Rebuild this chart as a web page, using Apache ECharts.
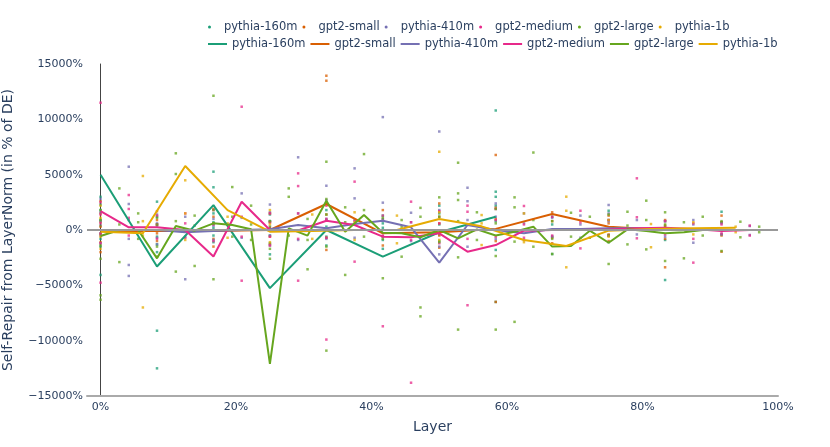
<!DOCTYPE html>
<html>
<head>
<meta charset="utf-8">
<script src="https://cdn.jsdelivr.net/npm/echarts@6/dist/echarts.min.js"></script>
<style>html,body{margin:0;padding:0;background:#fff;}#c{width:830px;height:447px;}</style>
</head>
<body>
<div id="c"></div>
<script>
// ---- data ----
const models = ['pythia-160m', 'gpt2-small', 'pythia-410m', 'gpt2-medium', 'gpt2-large', 'pythia-1b'];
const nLayers = [12, 12, 24, 24, 36, 16];
const colors = ['#1b9e77', '#d95f02', '#7570b3', '#e7298a', '#66a61e', '#e6ab02'];
const xTickValues = [0, 20, 40, 60, 80, 100];

// mean self-repair per layer (line)
const pythia160mLine = [5000, -3300, 2250, -5250, 0, -2400, -200, 1200];
const gpt2SmallLine = [-100, -100, -100, 0, 2350, -300, -200, 100, 1450, 300, 0, 0];
const pythia410mLine = [0, 0, 0, -200, -100, 0, 60, 450, 150, 540, 840, 240, -2950, 450, 0, -300, 100, 100, 150, 150, 100, 50, 0, 0];
const gpt2MediumLine = [1710, 240, 240, 0, -2400, 2560, 0, -50, 840, 450, -600, -660, -300, -1960, -1360, -60, 0, 0, 50, 150, 200, 100, -100, 0];
const gpt2LargeLine = [-540, 0, 0, -2560, 360, -60, 600, 450, 60, -12100, 150, -510, 2650, -150, 1350, -240, -300, -660, 0, -750, 60, -500, -150, 300, -1500, -1450, -60, -1150, 60, -100, -300, -200, 0, 0, 0, 0];
const pythia1bLine = [-150, -300, 5780, 1800, -150, -100, 0, 0, 1000, 330, -900, -1450, -60, 100, 150, 200];

// per-head values, grouped by layer (dots)
const pythia160mDots = [
  [-4060, 3000, 1800, 900, 400, -300, -800, -1500, 2300],
  [-12500, -9100, 2560, 1200, -600, -1300, -2000, 400],
  [5270, 3860, 1500, 700, -500, -1100, 200],
  [1400, 800, -500, -1200, -2200, 300],
  [1800, 900, -600, -1400, 300],
  [1300, 600, -900, -1700, 200],
  [1500, 2200, -400, -1000, 500],
  [10800, 3460, 3000, 2200, -6500, -1800, 800],
  [-2170, 1200, 500, -600],
  [1740, 900, -500, -1100],
  [-4520, 800, -900, 300],
  [1650, 700, -400]
];
const gpt2SmallDots = [
  [2600, 1500, 700, -400, -1100, -2000, 300],
  [1700, 900, -300, -1000, 500],
  [1900, 600, -800, -1500, 1200],
  [1500, 700, -600, -1300, 200],
  [13940, 13490, 2500, 1400, -700, -1800],
  [1800, 900, -600, -1400],
  [2400, 1200, -500, -1600, 600],
  [6780, -6500, 2000, 1000, -1000],
  [1600, 800, -700, -1200],
  [1300, 600, -400, -1000],
  [-3370, 900, -800, 400],
  [-1960, 1300, 700, -500]
];
const pythia410mDots = [
  [2800, 1600, 800, -500, -1200],
  [5720, 2350, -3160, -4150, 900, -800],
  [1400, 600, -700, -1300],
  [-4450, 1200, -600],
  [1000, 400, -900],
  [3310, 1100, -700],
  [1600, 800, -500, -1400, 2300],
  [6570, 1500, -900],
  [4000, 2700, 1000, -800],
  [5570, 2860, 900, -700],
  [10200, 2470, 1000, -600],
  [1560, 700, -1000],
  [8900, 1800, -1500, -2200],
  [3820, -1510, 900, 2600],
  [2400, 1200, -800],
  [1500, -900, 600],
  [1100, -600],
  [1300, -700, 500],
  [2260, 1500, -500, 800],
  [900, -400],
  [800, -600],
  [-1150, 500, 900],
  [600, -400],
  [360, -450]
];
const gpt2MediumDots = [
  [11500, -4760, 2500, 1400, 600, -300, -1200],
  [3160, 1100, -500, 1900],
  [1300, 500, -800],
  [1500, 600, -700],
  [1800, -1000, 500],
  [11140, -4580, 1200, -600],
  [1500, 700, -600, -1400],
  [5120, 3970, -4580, 1500, -800],
  [-9900, 2200, 1000, -700],
  [4370, -2860, 800],
  [-8700, 1300, -500],
  [-13800, 2560, 700, -900],
  [1700, -1200, 600],
  [-6800, 1650, 2200, -800],
  [1900, -600, 900],
  [2170, -700, 500],
  [1200, -500],
  [1740, -1660, 700],
  [900, -500],
  [4670, 1150, -750],
  [800, -400],
  [-2950, 600, -800],
  [500, -300],
  [400, -500]
];
const gpt2LargeDots = [
  [-5900, -6300, 1800, 900, -1400, -2600],
  [3760, -2900, 500],
  [1500, -800, 700],
  [-2400, 1100, -1500, 500],
  [6930, 5060, -3760, 800],
  [-3250, 1300, 400],
  [12130, -4450, 1800, 600],
  [3880, 1200, -600],
  [2200, -900, 500],
  [-1700, 800, -2600],
  [3760, 3000, -500],
  [-3550, 1000, -900],
  [6170, -10900, 2800, 1400, -1500],
  [2050, -4060, 700],
  [6860, 1800, -600],
  [-4360, 1100, -800],
  [-2410, 900, 300],
  [-7000, -7800, 1200, 2000],
  [2950, 1200, -1100],
  [6080, 3310, 2710, -2470, -9000, 800],
  [1600, -900],
  [-2350, -9000, 1900, 600],
  [2950, 2050, -1050, -8300],
  [7000, -1510, 900],
  [-2170, 800, -800],
  [1560, -600],
  [1200, -700],
  [-3070, 1400, -500],
  [1650, -1300, 400],
  [2650, -1750, 900],
  [1600, -2800, 500],
  [-2560, 700],
  [1200, -500],
  [-1900, 800],
  [750, -660],
  [300, -200]
];
const pythia1bDots = [
  [2200, 1100, -600, -1700],
  [4880, -7000, 800, -500],
  [4490, 1500, -900],
  [1200, -700, 600],
  [1800, -1100, 500],
  [1400, -800],
  [1600, -900, 700],
  [1300, -1200],
  [7070, 1600, -900],
  [1350, -1360, 600],
  [1500, -1100],
  [3010, 1740, -3370],
  [900, -600],
  [540, -1560],
  [700, -400],
  [300, -200]
];

const lineData = [pythia160mLine, gpt2SmallLine, pythia410mLine, gpt2MediumLine, gpt2LargeLine, pythia1bLine];
const dotData = [pythia160mDots, gpt2SmallDots, pythia410mDots, gpt2MediumDots, gpt2LargeDots, pythia1bDots];

// ---- chart ----
const font = 'DejaVu Sans';
const textColor = '#2a3f5f';
const series = [];
models.forEach((m, k) => {
  series.push({
    name: m, type: 'line', z: 3,
    data: lineData[k].map((v, i) => [i / nLayers[k] * 100, v]),
    showSymbol: false, symbol: 'none',
    lineStyle: { color: colors[k], width: 2 },
    itemStyle: { color: colors[k] },
    animation: false
  });
});
models.forEach((m, k) => {
  const pts = [];
  dotData[k].forEach((vals, i) => vals.forEach(v => pts.push([i / nLayers[k] * 100, v])));
  const s = {
    name: m, type: 'scatter', z: 2,
    data: pts, symbol: 'rect', symbolSize: 2.5,
    itemStyle: { color: colors[k], opacity: 0.75 },
    animation: false
  };
  if (k === 0) {
    s.markLine = {
      silent: true, symbol: 'none', animation: false,
      label: { show: false },
      lineStyle: { color: '#999', width: 2, type: 'solid' },
      data: [{ yAxis: 0 }]
    };
  }
  series.push(s);
});

const fmtPct = v => (v < 0 ? '\u2212' + Math.abs(v) : String(v)) + '%';

const chart = echarts.init(document.getElementById('c'));
chart.setOption({
  backgroundColor: '#fff',
  animation: false,
  textStyle: { fontFamily: font },
  legend: [
    {
      data: models.map(m => ({ name: m, icon: 'circle' })),
      left: 208, top: 21, padding: 0, itemWidth: 19, itemHeight: 3, itemGap: 5,
      textStyle: { color: textColor, fontSize: 11.5, fontFamily: font }
    },
    {
      data: models.map(m => ({ name: m, icon: 'rect' })),
      left: 208, top: 38, padding: 0, itemWidth: 19, itemHeight: 2, itemGap: 5,
      textStyle: { color: textColor, fontSize: 11.5, fontFamily: font }
    }
  ],
  grid: { left: 87, right: 52, top: 64, bottom: 51, containLabel: false, outerBoundsMode: 'none' },
  xAxis: {
    type: 'value', min: -2, max: 100,
    name: 'Layer', nameLocation: 'middle', nameGap: 24,
    nameTextStyle: { color: textColor, fontSize: 14, fontFamily: font },
    axisLine: { show: true, onZero: false, lineStyle: { color: '#aaa', width: 2 } },
    axisTick: { show: false },
    splitLine: { show: false },
    axisLabel: {
      customValues: xTickValues,
      formatter: v => v + '%',
      color: textColor, fontSize: 11, fontFamily: font, margin: 6
    }
  },
  yAxis: {
    type: 'value', min: -15000, max: 15000, interval: 5000,
    name: 'Self-Repair from LayerNorm (in % of DE)', nameLocation: 'middle', nameGap: 72,
    nameTextStyle: { color: textColor, fontSize: 14, fontFamily: font },
    axisLine: { show: true, lineStyle: { color: '#444', width: 1 } },
    axisTick: { show: false },
    splitLine: { show: false },
    axisLabel: { formatter: fmtPct, color: textColor, fontSize: 11, fontFamily: font, margin: 4 }
  },
  series: series
});
</script>
</body>
</html>
